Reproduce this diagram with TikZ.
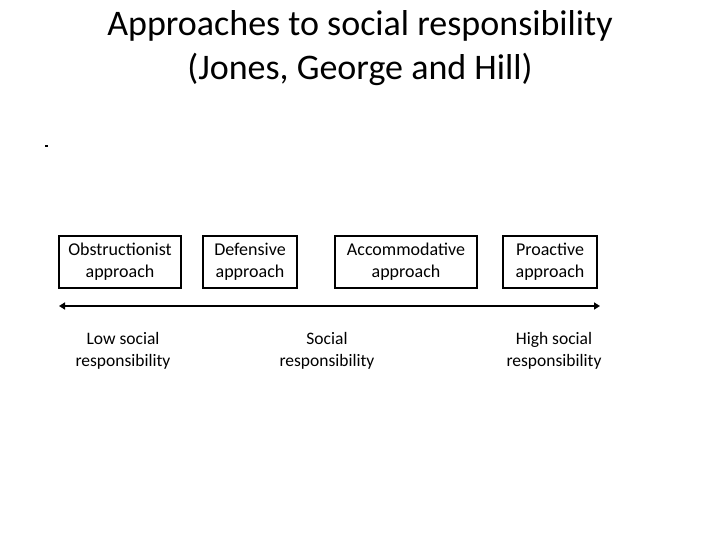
\documentclass[tikz,border=0pt]{standalone}
\usepackage{fontspec}
\setmainfont{Carlito}
\usetikzlibrary{arrows.meta}
\begin{document}
\begin{tikzpicture}[x=1pt,y=-1pt,
  appbox/.style={draw=black, line width=2.9pt, inner sep=0pt, align=center, font=\fontsize{18}{21.5}\selectfont},
  lbl/.style={align=center, inner sep=0pt, font=\fontsize{17.5}{22}\selectfont},
  ttl/.style={align=center, inner sep=0pt, font=\fontsize{36}{43.5}\selectfont}]
\useasboundingbox (0,0) rectangle (720,540);
\node[ttl, anchor=base] (title) at (360,79.5) {Approaches to social responsibility\\(Jones, George and Hill)};
\fill (45,145) rectangle (48,147.5);
\node[appbox, minimum width=122pt, minimum height=52pt] (b1) at (120,262) {\strut Obstructionist\\approach\strut};
\node[appbox, minimum width=94pt, minimum height=52pt] (b2) at (250,262) {\strut Defensive\\approach\strut};
\node[appbox, minimum width=142pt, minimum height=52pt] (b3) at (406,262) {\strut Accommodative\\approach\strut};
\node[appbox, minimum width=94pt, minimum height=52pt] (b4) at (550,262) {\strut Proactive\\approach\strut};
\coordinate (al) at (59,306);
\coordinate (ar) at (600,306);
\draw[line width=2pt, {Triangle[length=6pt,width=7pt]}-{Triangle[length=6pt,width=7pt]}] (al) -- (ar);
\node[lbl] (l1) at (123,351) {\strut Low social\\responsibility\strut};
\node[lbl] (l2) at (327,351) {\strut Social\\responsibility\strut};
\node[lbl] (l3) at (554,351) {\strut High social\\responsibility\strut};
\end{tikzpicture}
\end{document}
